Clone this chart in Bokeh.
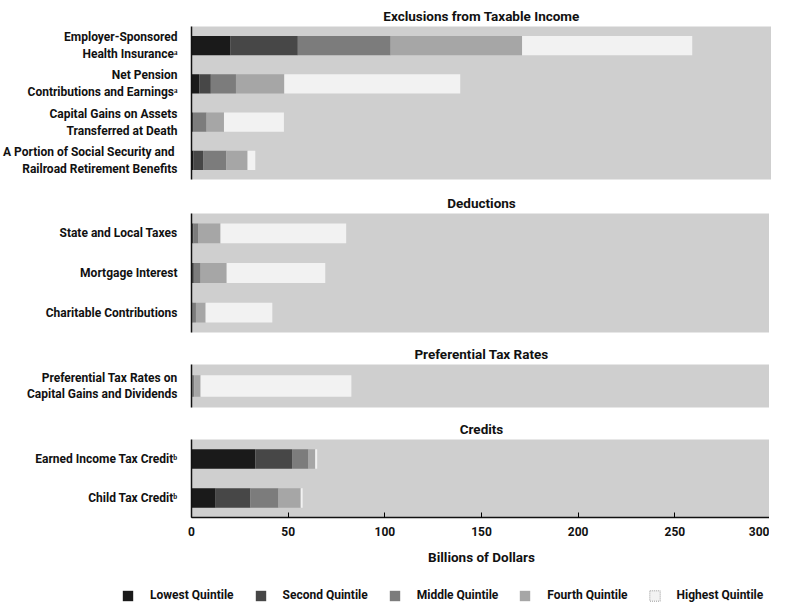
from bokeh.plotting import figure
from bokeh.layouts import column
from bokeh.models import ColumnDataSource, FactorRange, Range1d, Legend, LegendItem
from bokeh.embed import file_html
from bokeh.resources import INLINE

# ---------------- data ----------------
sections = ["Exclusions from Taxable Income", "Deductions",
            "Preferential Tax Rates", "Credits"]
items = [
    "Employer-Sponsored\nHealth Insuranceᵃ",
    "Net Pension\nContributions and Earningsᵃ",
    "Capital Gains on Assets\nTransferred at Death",
    "A Portion of  Social Security and\nRailroad Retirement Benefits",
    "State and Local Taxes",
    "Mortgage Interest",
    "Charitable Contributions",
    "Preferential Tax Rates on\nCapital Gains and Dividends",
    "Earned Income Tax Creditᵇ",
    "Child Tax Creditᵇ",
]
item_section = [0, 0, 0, 0, 1, 1, 1, 2, 3, 3]
lowest = [20, 4, 0.2, 1, 0.2, 0.2, 0.1, 0.1, 33, 12.5]
second = [35, 6, 0.6, 5, 0.8, 1.0, 0.4, 0.3, 19, 18]
middle = [48, 13, 7, 12, 2.6, 3.5, 1.8, 1.0, 8.5, 14.5]
fourth = [68, 25, 9, 11, 11.4, 13.5, 5, 3.3, 3.5, 11.5]
highest = [88, 91, 31, 4, 65, 51, 34.5, 78, 1, 1]
quintiles = ["Lowest Quintile", "Second Quintile", "Middle Quintile",
             "Fourth Quintile", "Highest Quintile"]
x_ticks = [0, 50, 100, 150, 200, 250, 300]
x_title = "Billions of Dollars"

# ---------------- style ----------------
keys = ["lowest", "second", "middle", "fourth", "highest"]
colors = ["#1a1a1a", "#474747", "#7c7c7c", "#a6a6a6", "#f2f2f2"]
frame_heights = [153, 119, 43, 78]
bottom_borders = [11, 9, 9, 64]
FONT = "Roboto"
series = dict(lowest=lowest, second=second, middle=middle,
              fourth=fourth, highest=highest)

all_data = dict(item=items)
for k in keys:
    all_data[k] = series[k]

figs = []
for si, sec in enumerate(sections):
    idx = [i for i, s in enumerate(item_section) if s == si]
    labels = [items[i] for i in idx]
    data = dict(item=labels)
    for k in keys:
        data[k] = [series[k][i] for i in idx]
    src = ColumnDataSource(data)
    last = si == len(sections) - 1
    p = figure(y_range=FactorRange(*reversed(labels), range_padding=0),
               x_range=Range1d(0, 300),
               frame_width=580, frame_height=frame_heights[si],
               output_backend="svg", toolbar_location=None, title=sec,
               min_border_left=189, min_border_right=0,
               min_border_top=26 if si == 0 else 0,
               min_border_bottom=bottom_borders[si])
    p.hbar_stack(keys, y="item", height=0.5, color=colors,
                 line_color=None, source=src)
    p.title.align = "center"
    p.title.text_font = FONT
    p.title.text_font_size = "13.5px"
    p.title.text_font_style = "bold"
    p.title.text_color = "#111111"
    p.title.standoff = 5
    p.background_fill_color = "#cfcfcf"
    p.border_fill_color = "white"
    p.outline_line_color = None
    p.xgrid.visible = False
    p.ygrid.visible = False
    p.yaxis.major_tick_line_color = None
    p.yaxis.minor_tick_line_color = None
    p.yaxis.axis_line_color = "#111111"
    p.yaxis.axis_line_width = 1.5
    p.yaxis.major_label_text_font = FONT
    p.yaxis.major_label_text_font_size = "12px"
    p.yaxis.major_label_text_font_style = "bold"
    p.yaxis.major_label_text_color = "#111111"
    p.yaxis.major_label_standoff = 8
    if not last:
        p.xaxis.visible = False
    else:
        p.xaxis.ticker = x_ticks
        p.xaxis.major_tick_in = 5
        p.xaxis.major_tick_out = 0
        p.xaxis.minor_tick_line_color = None
        p.xaxis.axis_line_color = "#111111"
        p.xaxis.axis_line_width = 1.5
        p.xaxis.major_label_text_font = FONT
        p.xaxis.major_label_text_font_size = "12px"
        p.xaxis.major_label_text_font_style = "bold"
        p.xaxis.major_label_text_color = "#111111"
        p.xaxis.major_label_standoff = 9
        p.xaxis.axis_label = x_title
        p.xaxis.axis_label_text_font = FONT
        p.xaxis.axis_label_text_font_size = "13.5px"
        p.xaxis.axis_label_text_font_style = "bold"
        p.xaxis.axis_label_text_color = "#111111"
        p.xaxis.axis_label_standoff = 10
    figs.append(p)

# ---------------- legend strip ----------------
# the same stacks, drawn with an x-range that keeps every bar out of view,
# so that only the legend of this strip is seen
lf = figure(y_range=FactorRange(*items), x_range=Range1d(-700, -600),
            frame_width=772, frame_height=21,
            output_backend="svg", toolbar_location=None,
            x_axis_location=None, y_axis_location=None,
            min_border_left=0, min_border_right=0,
            min_border_top=0, min_border_bottom=0)
lrs = lf.hbar_stack(keys, y="item", height=0.5, color=colors,
                    line_color=None, source=ColumnDataSource(all_data))
lrs[-1].glyph.line_color = "#9a9a9a"
lrs[-1].glyph.line_dash = "1 1"
lf.outline_line_color = None
lf.background_fill_color = None
lf.border_fill_color = None
lf.xgrid.visible = False
lf.ygrid.visible = False
legend = Legend(items=[LegendItem(label=q, renderers=[r])
                       for q, r in zip(quintiles, lrs)],
                orientation="horizontal", location=(121, 0),
                glyph_width=13, glyph_height=13,
                label_standoff=16, spacing=20, padding=0, margin=0,
                border_line_color=None, background_fill_alpha=0,
                label_text_font=FONT, label_text_font_size="12px",
                label_text_font_style="bold",
                label_text_color="#111111")
lf.add_layout(legend, "center")
figs.append(lf)

layout = column(*figs, spacing=0)
open("out.html", "w").write(file_html(layout, INLINE))
